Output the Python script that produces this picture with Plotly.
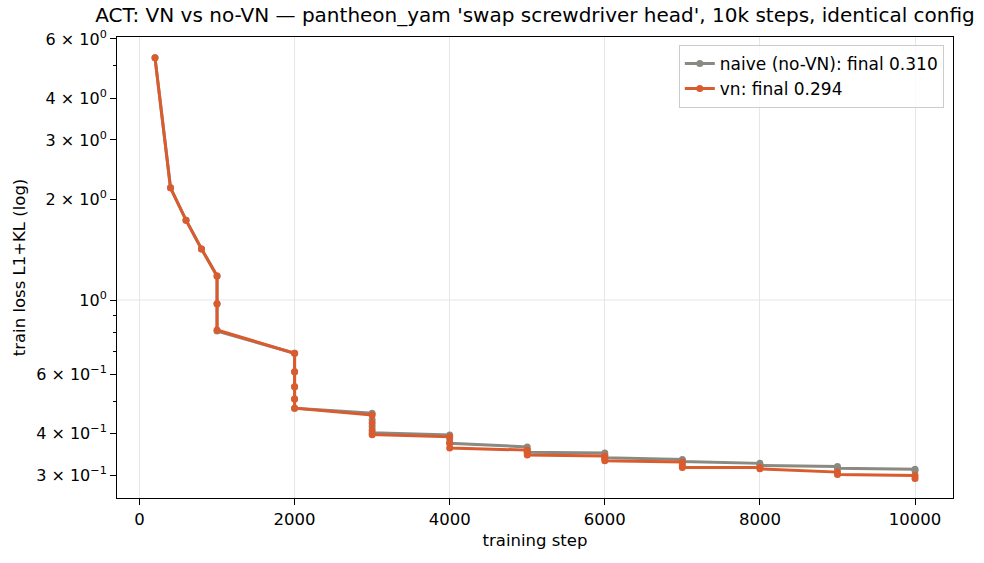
import plotly.graph_objects as go
import math

steps = [200, 400, 600, 800,
         1000, 1000, 1000,
         2000, 2000, 2000, 2000, 2000,
         3000, 3000, 3000, 3000,
         4000, 4000, 4000,
         5000, 5000, 5000,
         6000, 6000, 6000,
         7000, 7000, 7000,
         8000, 8000,
         9000, 9000,
         10000, 10000]

naive_loss = [5.27, 2.16, 1.73, 1.42,
              1.18, 0.975, 0.808,
              0.694, 0.611, 0.551, 0.507, 0.476,
              0.460, 0.440, 0.420, 0.402,
              0.396, 0.385, 0.374,
              0.365, 0.358, 0.352,
              0.350, 0.344, 0.339,
              0.335, 0.332, 0.330,
              0.326, 0.321,
              0.319, 0.315,
              0.313, 0.310]

vn_loss = [5.27, 2.16, 1.73, 1.42,
           1.18, 0.975, 0.814,
           0.694, 0.611, 0.551, 0.507, 0.476,
           0.454, 0.430, 0.410, 0.397,
           0.391, 0.375, 0.362,
           0.357, 0.351, 0.345,
           0.343, 0.337, 0.332,
           0.329, 0.322, 0.317,
           0.317, 0.314,
           0.307, 0.302,
           0.300, 0.294]

series_names = ["naive (no-VN): final 0.310", "vn: final 0.294"]
series_colors = ["#8a8a82", "#d95b2e"]

y_major_vals = [6, 4, 3, 2, 1, 0.6, 0.4, 0.3]
y_major_text = ["6 × 10<sup>0</sup>", "4 × 10<sup>0</sup>", "3 × 10<sup>0</sup>",
                "2 × 10<sup>0</sup>", "10<sup>0</sup>", "6 × 10<sup>−1</sup>",
                "4 × 10<sup>−1</sup>", "3 × 10<sup>−1</sup>"]
y_minor_vals = [5, 0.9, 0.8, 0.7, 0.5]
x_tick_vals = [0, 2000, 4000, 6000, 8000, 10000]
x_tick_text = ["0", "2000", "4000", "6000", "8000", "10000"]

font_family = "DejaVu Sans, sans-serif"

fig = go.Figure()
for name, ys, col in zip(series_names, [naive_loss, vn_loss], series_colors):
    fig.add_trace(go.Scatter(
        x=steps, y=ys, name=name, mode="lines+markers",
        line=dict(color=col, width=3),
        marker=dict(color=col, size=7),
    ))

fig.update_layout(
    width=984, height=563,
    margin=dict(l=117, r=31, t=37, b=65),
    paper_bgcolor="white", plot_bgcolor="white",
    font=dict(family=font_family, color="black", size=16),
    title=dict(text="ACT: VN vs no-VN — pantheon_yam 'swap screwdriver head', 10k steps, identical config",
               x=0.5, xref="paper", xanchor="center", y=0.973, yanchor="middle",
               font=dict(size=20, family=font_family, color="black")),
    showlegend=True,
    legend=dict(x=0.989, y=0.983, xanchor="right", yanchor="top",
                bgcolor="rgba(255,255,255,0.8)", bordercolor="#cccccc", borderwidth=1,
                font=dict(size=17, family=font_family), tracegroupgap=0),
)

fig.update_xaxes(
    range=[-290, 10490], tickmode="array", tickvals=x_tick_vals, ticktext=x_tick_text,
    ticks="outside", ticklen=6, tickwidth=1, tickcolor="black",
    showline=True, linecolor="black", linewidth=1, mirror=True,
    showgrid=True, gridcolor="#e6e6e6", gridwidth=1, zeroline=False,
    title=dict(text="training step", font=dict(size=16.5), standoff=6),
    tickfont=dict(size=16.5),
)

fig.update_yaxes(
    type="log", range=[math.log10(0.257), math.log10(6.08)],
    tickmode="array", tickvals=y_major_vals, ticktext=y_major_text,
    ticks="outside", ticklen=6, tickwidth=1, tickcolor="black",
    showline=True, linecolor="black", linewidth=1, mirror=True,
    showgrid=False, zeroline=False,
    minor=dict(tickmode="array", tickvals=y_minor_vals, ticks="outside",
               ticklen=3.5, tickwidth=1, tickcolor="black", showgrid=False),
    title=dict(text="train loss L1+KL (log)", font=dict(size=16.5), standoff=6),
    tickfont=dict(size=16),
)

fig.add_hline(y=1, line=dict(color="#e6e6e6", width=1), layer="below")

fig.write_html("out.html")
